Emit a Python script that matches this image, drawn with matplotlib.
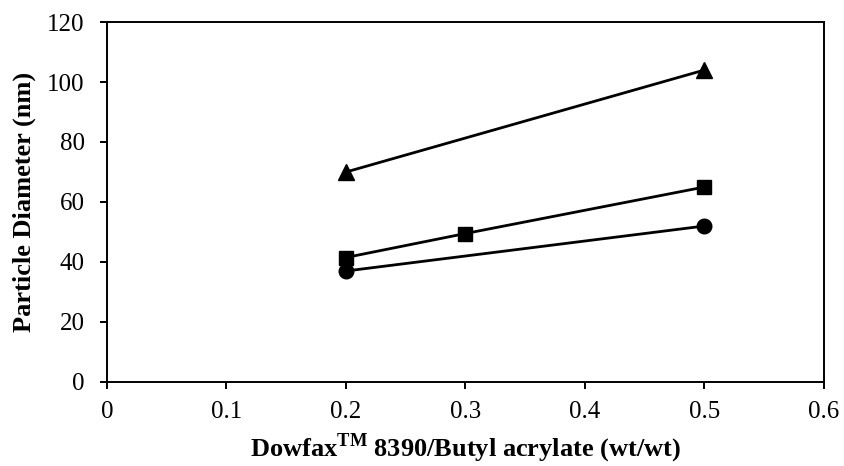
import matplotlib
matplotlib.use('Agg')
import matplotlib.pyplot as plt

plt.rcParams['font.family'] = ['Liberation Serif', 'DejaVu Serif']
plt.rcParams['mathtext.fontset'] = 'custom'
plt.rcParams['mathtext.rm'] = 'Liberation Serif'
plt.rcParams['mathtext.bf'] = 'Liberation Serif:bold'

# surfactant ratio vs particle size for three series
x_tri = [0.2, 0.5]
y_tri = [70, 104]
x_sq = [0.2, 0.3, 0.5]
y_sq = [41.5, 49.5, 65]
x_circ = [0.2, 0.5]
y_circ = [37, 52]

xticks = [0, 0.1, 0.2, 0.3, 0.4, 0.5, 0.6]
xtick_labels = ['0', '0.1', '0.2', '0.3', '0.4', '0.5', '0.6']
yticks = [0, 20, 40, 60, 80, 100, 120]

fig = plt.figure(figsize=(8.45, 4.66), dpi=100)
ax = fig.add_axes([107 / 845, 84 / 466, 717 / 845, 360 / 466])

ax.plot(x_tri, y_tri, color='black', lw=2, marker='^', markersize=11)
ax.plot(x_sq, y_sq, color='black', lw=2, marker='s', markersize=10.5)
ax.plot(x_circ, y_circ, color='black', lw=2, marker='o', markersize=10.5)

ax.set_xlim(0, 0.6)
ax.set_ylim(0, 120)
ax.set_xticks(xticks)
ax.set_xticklabels(xtick_labels)
ax.set_yticks(yticks)

for side in ['top', 'right', 'left', 'bottom']:
    ax.spines[side].set_linewidth(1.4)
ax.tick_params(axis='both', direction='out', length=5, width=1.4, labelsize=18)
ax.tick_params(axis='y', pad=11)
ax.tick_params(axis='x', pad=9)

ax.set_xlabel(r'Dowfax$^{\mathbf{TM}}$ 8390/Butyl acrylate (wt/wt)',
              fontsize=19, fontweight='bold', labelpad=6)
ax.set_ylabel('Particle Diameter (nm)', fontsize=19, fontweight='bold', labelpad=8)

fig.savefig('out.png', dpi=100)
